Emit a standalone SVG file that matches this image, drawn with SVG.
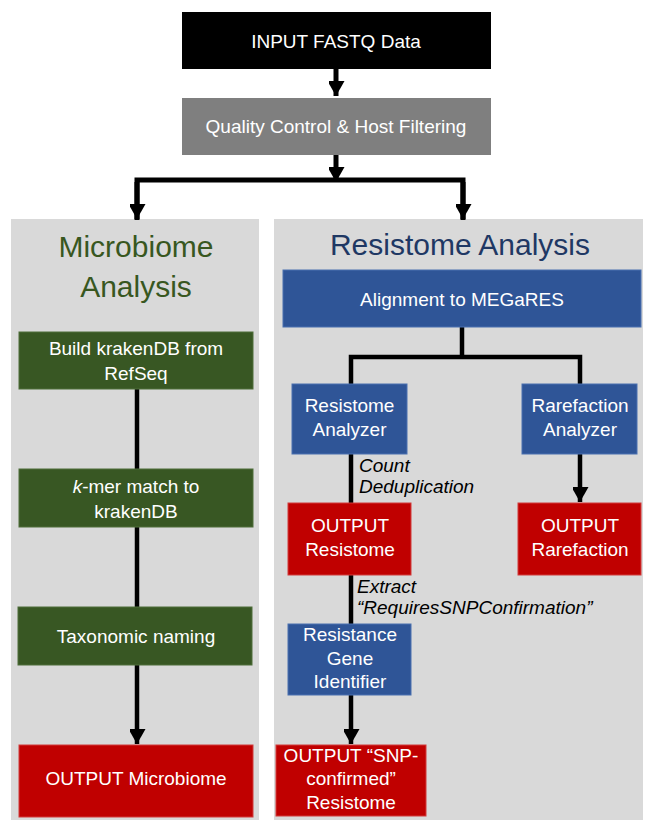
<svg xmlns="http://www.w3.org/2000/svg" width="645" height="820" viewBox="0 0 645 820">
<defs>
<marker id="ah" markerUnits="userSpaceOnUse" markerWidth="18" markerHeight="16" refX="15" refY="8.5" orient="auto">
<path d="M0,0 L15,8.5 L0,17 Z" fill="#000"/>
</marker>
<style>
.panel{fill:#d9d9d9}
.box{stroke-width:1}
.blk{fill:#000}
.gry{fill:#7f7f7f}
.grn{fill:#385723;stroke:#4e6e3a}
.blu{fill:#2f5597;stroke:#4a70b0}
.red{fill:#c00000;stroke:#d23a3a}
.t{font-family:"Liberation Sans",Arial,sans-serif;font-size:19px;fill:#fff;text-anchor:middle}
.title{font-family:"Liberation Sans",Arial,sans-serif;font-size:30px;text-anchor:middle}
.lbl{font-family:"Liberation Sans",Arial,sans-serif;font-size:19px;font-style:italic;fill:#000}
.c{fill:none;stroke:#000;stroke-width:4.5}
</style>
</defs>
<rect width="645" height="820" fill="#fff"/>
<g id="panel-microbiome">
<rect class="panel" x="11" y="219" width="248" height="601"/>
<text class="title" x="136" y="257" fill="#38571f">Microbiome</text>
<text class="title" x="136" y="297" fill="#38571f">Analysis</text>
</g>
<g id="panel-resistome">
<rect class="panel" x="274" y="219" width="369" height="601"/>
<text class="title" x="460" y="255" fill="#1f3864">Resistome Analysis</text>
</g>
<g id="connectors">
<line class="c" x1="336" y1="69" x2="336" y2="96" marker-end="url(#ah)" style="stroke-width:5"/>
<line class="c" x1="336" y1="155" x2="336" y2="182" marker-end="url(#ah)" style="stroke-width:5"/>
<polyline class="c" points="137,220 137,180 463,180 463,220" style="stroke-width:5;marker-end:none"/>
<line class="c" x1="137" y1="182" x2="137" y2="219" marker-end="url(#ah)" style="stroke-width:5"/>
<line class="c" x1="463" y1="182" x2="463" y2="219" marker-end="url(#ah)" style="stroke-width:5"/>
<line class="c" x1="137" y1="389" x2="137" y2="469"/>
<line class="c" x1="137" y1="527" x2="137" y2="607"/>
<line class="c" x1="137" y1="665" x2="137" y2="744" marker-end="url(#ah)"/>
<line class="c" x1="462" y1="327" x2="462" y2="357"/>
<polyline class="c" points="351,384 351,357 580,357 580,384"/>
<line class="c" x1="351" y1="454" x2="351" y2="503"/>
<line class="c" x1="580" y1="454" x2="580" y2="502" marker-end="url(#ah)"/>
<line class="c" x1="351" y1="575" x2="351" y2="624"/>
<line class="c" x1="351" y1="695" x2="351" y2="744" marker-end="url(#ah)"/>
<text class="lbl" x="359" y="472">Count</text>
<text class="lbl" x="359" y="493">Deduplication</text>
<text class="lbl" x="357" y="593">Extract</text>
<text class="lbl" x="357" y="614">“RequiresSNPConfirmation”</text>
</g>
<g id="input">
<rect class="blk" x="182" y="12" width="309" height="57"/>
<text class="t" x="336" y="48">INPUT FASTQ Data</text>
</g>
<g id="qc">
<rect class="gry" x="182" y="98" width="309" height="57"/>
<text class="t" x="336" y="133">Quality Control &amp; Host Filtering</text>
</g>
<g id="build-kraken">
<rect class="box grn" x="19" y="332" width="234" height="57"/>
<text class="t" x="136" y="355">Build krakenDB from</text>
<text class="t" x="136" y="380">RefSeq</text>
</g>
<g id="kmer">
<rect class="box grn" x="19" y="469" width="234" height="58"/>
<text class="t" x="136" y="493"><tspan font-style="italic">k</tspan>-mer match to</text>
<text class="t" x="136" y="518">krakenDB</text>
</g>
<g id="taxonomic">
<rect class="box grn" x="18" y="607" width="234" height="58"/>
<text class="t" x="136" y="643">Taxonomic naming</text>
</g>
<g id="out-microbiome">
<rect class="box red" x="19" y="745" width="234" height="72"/>
<text class="t" x="136" y="785">OUTPUT Microbiome</text>
</g>
<g id="alignment">
<rect class="box blu" x="283" y="270" width="358" height="57"/>
<text class="t" x="462" y="306">Alignment to MEGaRES</text>
</g>
<g id="resistome-analyzer">
<rect class="box blu" x="292" y="384" width="115" height="70"/>
<text class="t" x="349.5" y="412">Resistome</text>
<text class="t" x="349.5" y="436">Analyzer</text>
</g>
<g id="rarefaction-analyzer">
<rect class="box blu" x="522" y="384" width="115" height="70"/>
<text class="t" x="580" y="412">Rarefaction</text>
<text class="t" x="580" y="436">Analyzer</text>
</g>
<g id="out-resistome">
<rect class="box red" x="288" y="503" width="123" height="72"/>
<text class="t" x="350" y="532">OUTPUT</text>
<text class="t" x="350" y="556">Resistome</text>
</g>
<g id="out-rarefaction">
<rect class="box red" x="518" y="503" width="123" height="72"/>
<text class="t" x="580" y="532">OUTPUT</text>
<text class="t" x="580" y="556">Rarefaction</text>
</g>
<g id="resistance-gene">
<rect class="box blu" x="288" y="624" width="123" height="71"/>
<text class="t" x="350" y="641">Resistance</text>
<text class="t" x="350" y="665">Gene</text>
<text class="t" x="350" y="688">Identifier</text>
</g>
<g id="out-snp">
<rect class="box red" x="276" y="745" width="150" height="71"/>
<text class="t" x="351" y="762">OUTPUT “SNP-</text>
<text class="t" x="351" y="785">confirmed”</text>
<text class="t" x="351" y="809">Resistome</text>
</g>
</svg>
